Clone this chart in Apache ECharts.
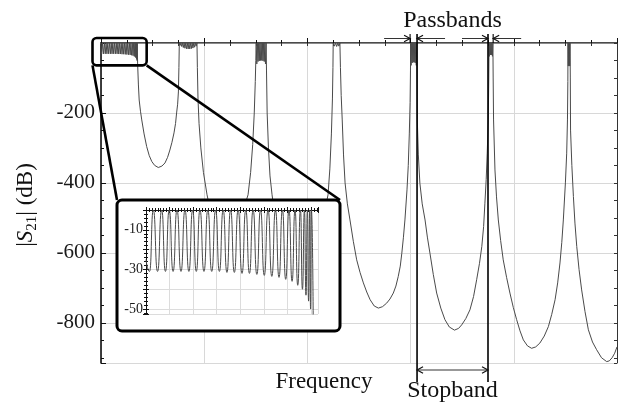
<!DOCTYPE html>
<html>
<head>
<meta charset="utf-8">
<title>|S21| response</title>
<script src="https://cdn.jsdelivr.net/npm/echarts@6.0.0/dist/echarts.min.js"></script>
<style>
html, body { margin: 0; padding: 0; background: #fff; }
#chart { width: 618px; height: 403px; }
</style>
</head>
<body>
<div id="chart"></div>
<script>
// |S21| in dB against normalised frequency (0..20), listed band by band as [f, dB].

// band 1 ripple (also shown magnified in the inset)
const pass1 = [
  [0, -25], [0.03, -31], [0.062, 0],
  [0.098, -31], [0.133, 0], [0.165, -31], [0.197, 0], [0.230, -31], [0.263, 0],
  [0.297, -31], [0.331, 0], [0.364, -31], [0.396, 0], [0.427, -31], [0.458, 0],
  [0.492, -31], [0.525, 0], [0.558, -31], [0.591, 0], [0.623, -31], [0.655, 0],
  [0.687, -31.5], [0.718, 0], [0.750, -31.5], [0.782, 0], [0.815, -32], [0.847, 0],
  [0.878, -32], [0.909, 0], [0.941, -32.5], [0.972, 0], [1.004, -33], [1.036, 0],
  [1.068, -33.5], [1.099, 0], [1.129, -34], [1.158, 0], [1.186, -35], [1.214, 0],
  [1.240, -36], [1.265, 0], [1.288, -38], [1.311, 0], [1.328, -40], [1.345, 0],
  [1.358, -43], [1.370, 0], [1.380, -46], [1.390, 0], [1.397, -50], [1.404, 0]
];
const stop1 = [
  [1.404, 0], [1.42, -60], [1.45, -120], [1.48, -163], [1.53, -195], [1.58, -220],
  [1.67, -260], [1.77, -296], [1.87, -322], [1.97, -339], [2.08, -350], [2.22, -356],
  [2.36, -352], [2.48, -343], [2.58, -327], [2.67, -306], [2.75, -284], [2.83, -257],
  [2.89, -230], [2.93, -200], [2.97, -175], [3.0, -140], [3.02, -70], [3.035, 0]
];
const pass2 = [
  [3.035, 0], [3.066, -7], [3.097, 0], [3.128, -10], [3.16, 0], [3.191, -13], [3.222, 0],
  [3.253, -15], [3.284, 0], [3.315, -16.5], [3.346, 0], [3.377, -17], [3.409, 0],
  [3.44, -17], [3.471, 0], [3.502, -16], [3.533, 0], [3.564, -14.5], [3.595, 0],
  [3.627, -12], [3.658, 0], [3.689, -9], [3.72, 0]
];
const stop2 = [
  [3.72, 0], [3.735, -70], [3.76, -160], [3.80, -230], [3.87, -300], [3.97, -370],
  [4.11, -434], [4.27, -490], [4.45, -535], [4.65, -565], [4.85, -578], [5.05, -572],
  [5.25, -548], [5.42, -505], [5.57, -465], [5.70, -434], [5.80, -370], [5.88, -290],
  [5.94, -200], [5.98, -110], [6.0, -50], [6.015, 0]
];
const pass3 = [
  [6.015, 0], [6.039, -60], [6.063, 0], [6.087, -53], [6.111, 0], [6.135, -51], [6.159, 0],
  [6.183, -50], [6.207, 0], [6.231, -50], [6.255, 0], [6.279, -51], [6.303, 0],
  [6.327, -53], [6.351, 0], [6.375, -60], [6.40, 0]
];
const stop3 = [
  [6.40, 0], [6.415, -80], [6.44, -200], [6.49, -300], [6.55, -380], [6.63, -434],
  [6.75, -500], [6.9, -565], [7.1, -630], [7.35, -680], [7.6, -698], [7.85, -690],
  [8.1, -655], [8.35, -590], [8.55, -520], [8.70, -470], [8.80, -434], [8.87, -360],
  [8.93, -260], [8.97, -160], [8.99, -70], [9.0, 0]
];
const pass4 = [
  [9.0, 0], [9.045, -9], [9.09, 0], [9.135, -10], [9.18, 0], [9.22, -9], [9.26, 0]
];
const stop4 = [
  [9.26, 0], [9.28, -70], [9.31, -150], [9.35, -220], [9.40, -320], [9.46, -400],
  [9.55, -460], [9.65, -506], [9.78, -567], [9.91, -620], [10.04, -656], [10.17, -686],
  [10.30, -712], [10.43, -734], [10.59, -752], [10.75, -758], [10.91, -754],
  [11.07, -744], [11.20, -732], [11.33, -715], [11.43, -695], [11.52, -668],
  [11.60, -638], [11.66, -601], [11.72, -557], [11.78, -506], [11.86, -420],
  [11.91, -350], [11.95, -260], [11.98, -170], [11.995, -80], [12.0, 0]
];
const pass5 = [
  [12.0, 0], [12.02, -64], [12.04, 0], [12.06, -57], [12.08, 0], [12.10, -55], [12.12, 0],
  [12.14, -55], [12.16, 0], [12.18, -57], [12.20, 0], [12.22, -64], [12.24, 0]
];
const stop5 = [
  [12.24, 0], [12.25, -100], [12.26, -220], [12.30, -320], [12.36, -401], [12.45, -460],
  [12.56, -506], [12.65, -555], [12.75, -601], [12.88, -662], [13.01, -715],
  [13.17, -758], [13.33, -791], [13.50, -812], [13.70, -821], [13.86, -816],
  [13.98, -806], [14.14, -788], [14.30, -763], [14.44, -725], [14.56, -677],
  [14.67, -630], [14.76, -582], [14.83, -525], [14.88, -458], [14.93, -390],
  [14.97, -315], [15.01, -220], [15.03, -100], [15.04, 0]
];
const pass6 = [
  [15.04, 0], [15.058, -38], [15.077, 0], [15.096, -34], [15.115, 0], [15.133, -34],
  [15.152, 0], [15.171, -38], [15.19, 0]
];
const stop6 = [
  [15.19, 0], [15.20, -100], [15.215, -220], [15.27, -363], [15.33, -440], [15.40, -506],
  [15.49, -565], [15.59, -620], [15.72, -670], [15.85, -715], [15.98, -756],
  [16.11, -791], [16.24, -823], [16.37, -849], [16.53, -866], [16.69, -873],
  [16.85, -869], [17.01, -858], [17.18, -838], [17.34, -811], [17.47, -776],
  [17.60, -734], [17.70, -686], [17.79, -629], [17.86, -570], [17.92, -506],
  [18.0, -400], [18.05, -315], [18.08, -220], [18.095, -110], [18.10, 0]
];
const pass7 = [
  [18.10, 0], [18.113, -66], [18.127, 0], [18.14, -62], [18.153, 0], [18.167, -66], [18.18, 0]
];
const stop7 = [
  [18.18, 0], [18.19, -100], [18.20, -249], [18.25, -350], [18.31, -439], [18.37, -515],
  [18.44, -582], [18.53, -648], [18.63, -706], [18.76, -768], [18.89, -820],
  [19.05, -855], [19.21, -877], [19.40, -900], [19.60, -911], [19.70, -909],
  [19.81, -900], [19.91, -887], [20.0, -869]
];

// annotation edges (frequency units)
const passbandBars = [11.98, 15.2];
const stopbandEdges = [12.25, 15.0];

const FONT = '"Liberation Serif", "Times New Roman", serif';
const CURVE = '#4a4a4a';

const mainCurve = [].concat(pass1, stop1, pass2, stop2, pass3, stop3, pass4,
  stop4, pass5, stop5, pass6, stop6, pass7, stop7);
// the y axes are drawn inverted on attenuation (-dB) so that ticks start at 0
const toAtt = pts => pts.map(p => [p[0], -p[1]]);

const chart = echarts.init(document.getElementById('chart'), null, { renderer: 'canvas' });

const tickStyle = { color: '#111', width: 1 };

const option = {
  animation: false,
  backgroundColor: '#fff',
  textStyle: { fontFamily: FONT },
  grid: [
    { left: 101, top: 43, width: 516, height: 320 },
    { left: 146, top: 210, width: 172, height: 104 }
  ],
  xAxis: [
    { gridIndex: 0, type: 'value', position: 'bottom', min: 0, max: 20, interval: 4,
      axisLine: { lineStyle: { color: '#111', width: 1.6 } },
      axisTick: { inside: true, length: 5, lineStyle: tickStyle },
      minorTick: { show: true, splitNumber: 4, length: 3, lineStyle: tickStyle },
      axisLabel: { show: false },
      splitLine: { show: true, lineStyle: { color: '#d8d8d8', width: 1 } } },
    { gridIndex: 0, type: 'value', position: 'top', min: 0, max: 20, interval: 1,
      axisLine: { lineStyle: { color: '#8a8a8a', width: 1 } },
      axisTick: { inside: true, length: 3, lineStyle: { color: '#333', width: 1 } },
      axisLabel: { show: false }, splitLine: { show: false } },
    { gridIndex: 1, type: 'value', position: 'bottom', min: 0, max: 1.46, interval: 0.2, z: 30,
      axisLine: { lineStyle: { color: '#111', width: 1 } },
      axisTick: { inside: true, length: 3, lineStyle: tickStyle },
      minorTick: { show: true, splitNumber: 8, length: 2, lineStyle: tickStyle },
      axisLabel: { show: false },
      splitLine: { show: true, lineStyle: { color: '#dcdcdc', width: 1 } } },
    { gridIndex: 1, type: 'value', position: 'top', min: 0, max: 1.46, interval: 0.2, z: 30,
      axisLine: { lineStyle: { color: '#111', width: 1 } },
      axisTick: { inside: true, length: 3, lineStyle: tickStyle },
      minorTick: { show: true, splitNumber: 8, length: 2, lineStyle: tickStyle },
      axisLabel: { show: false }, splitLine: { show: false } }
  ],
  yAxis: [
    { gridIndex: 0, type: 'value', position: 'left', inverse: true, min: 0, max: 915, interval: 200,
      axisLine: { show: true, lineStyle: { color: '#111', width: 1.6 } },
      axisTick: { inside: true, length: 5, lineStyle: tickStyle },
      axisLabel: { margin: 6, fontSize: 21, color: '#1a1a1a', fontFamily: FONT,
        formatter: v => (v > 0 && v % 200 === 0) ? '-' + v : '' },
      splitLine: { show: true, lineStyle: { color: '#d8d8d8', width: 1 } } },
    { gridIndex: 0, type: 'value', position: 'left', inverse: true, min: 0, max: 915, interval: 50,
      axisLine: { show: false },
      axisTick: { inside: true, length: 3, lineStyle: tickStyle },
      axisLabel: { show: false }, splitLine: { show: false } },
    { gridIndex: 0, type: 'value', position: 'right', inverse: true, min: 0, max: 915, interval: 50,
      axisLine: { show: true, lineStyle: { color: '#333', width: 1 } },
      axisTick: { inside: true, length: 3, lineStyle: { color: '#333', width: 1 } },
      axisLabel: { show: false }, splitLine: { show: false } },
    { gridIndex: 1, type: 'value', position: 'left', inverse: true, min: 0, max: 52.5, interval: 10, z: 30,
      axisLine: { show: true, lineStyle: { color: '#111', width: 1 } },
      axisTick: { inside: true, length: 3, lineStyle: tickStyle },
      minorTick: { show: true, splitNumber: 5, length: 2, lineStyle: tickStyle },
      axisLabel: { margin: 3, fontSize: 14, color: '#1a1a1a', fontFamily: FONT,
        formatter: v => (v === 10 || v === 30 || v === 50) ? '-' + v : '' },
      splitLine: { show: true, lineStyle: { color: '#dcdcdc', width: 1 } } },
    { gridIndex: 1, type: 'value', position: 'right', inverse: true, min: 0, max: 52.5, interval: 10, z: 30,
      axisLine: { show: true, lineStyle: { color: '#111', width: 1 } },
      axisTick: { inside: true, length: 3, lineStyle: tickStyle },
      minorTick: { show: true, splitNumber: 5, length: 2, lineStyle: tickStyle },
      axisLabel: { show: false }, splitLine: { show: false } }
  ],
  series: [
    { type: 'line', xAxisIndex: 0, yAxisIndex: 0, data: toAtt(mainCurve),
      showSymbol: false, symbol: 'none', clip: true, z: 2,
      lineStyle: { color: CURVE, width: 1 } },
    { type: 'line', xAxisIndex: 2, yAxisIndex: 3, data: toAtt(pass1.concat([[1.42, -60]])),
      showSymbol: false, symbol: 'none', clip: true, z: 31,
      smooth: 0.6, smoothMonotone: 'x',
      lineStyle: { color: CURVE, width: 1 } }
  ]
};
chart.setOption(option);

// ---- annotations placed from the axis scales ----
const toPx = (f, db) => chart.convertToPixel({ xAxisIndex: 0, yAxisIndex: 0 }, [f, -db]);
const topY = toPx(0, 0)[1];
const botY = toPx(0, -915)[1];

function arrowHead(x, y, dir) {
  // chevron pointing in direction dir (+1 right, -1 left)
  return { type: 'polyline', z: 40,
    shape: { points: [[x - dir * 6, y - 3.2], [x, y], [x - dir * 6, y + 3.2]] },
    style: { stroke: '#111', lineWidth: 1.2, fill: null } };
}
function hline(x1, x2, y, w) {
  return { type: 'line', z: 40, shape: { x1, y1: y, x2, y2: y },
    style: { stroke: '#333', lineWidth: w || 1 } };
}
function vline(x, y1, y2, w) {
  return { type: 'line', z: 40, shape: { x1: x, y1, x2: x, y2 },
    style: { stroke: '#000', lineWidth: w } };
}

const els = [];
const xs1 = toPx(stopbandEdges[0], 0)[0];
const xs2 = toPx(stopbandEdges[1], 0)[0];
const xp1 = toPx(passbandBars[0], 0)[0];
const xp2 = toPx(passbandBars[1], 0)[0];
const arrowY = topY - 4.5;

// stopband boundaries
els.push(vline(xs1, topY - 9, botY + 19, 1.6));
els.push(vline(xs2, topY - 9, botY + 19, 1.6));
// outer passband bars
els.push(vline(xp1, topY - 9, topY, 1.1));
els.push(vline(xp2, topY - 9, topY, 1.1));
// passband arrows
els.push(hline(xp1 - 26, xp1, arrowY), arrowHead(xp1, arrowY, 1));
els.push(hline(xs1, xs1 + 28, arrowY), arrowHead(xs1, arrowY, -1));
els.push(hline(xs2 - 26, xs2, arrowY), arrowHead(xs2, arrowY, 1));
els.push(hline(xp2, xp2 + 28, arrowY), arrowHead(xp2, arrowY, -1));
// stopband double arrow
const sbY = botY + 7;
els.push(hline(xs1, xs2, sbY), arrowHead(xs1, sbY, -1), arrowHead(xs2, sbY, 1));

const midX = (xs1 + xs2) / 2;
els.push({ type: 'text', z: 40, x: midX, y: 21,
  style: { text: 'Passbands', font: '24px ' + FONT, fill: '#111', align: 'center', verticalAlign: 'middle' } });
els.push({ type: 'text', z: 40, x: midX, y: 391,
  style: { text: 'Stopband', font: '24px ' + FONT, fill: '#111', align: 'center', verticalAlign: 'middle' } });
els.push({ type: 'text', z: 40, x: 324, y: 382,
  style: { text: 'Frequency', font: '23px ' + FONT, fill: '#111', align: 'center', verticalAlign: 'middle' } });

// y axis title
els.push({ type: 'text', z: 40, x: 26, y: 205, rotation: Math.PI / 2,
  style: { text: '|{it|S}{sub|21}| (dB)', font: '23px ' + FONT, fill: '#111',
    align: 'center', verticalAlign: 'middle',
    rich: {
      it: { fontStyle: 'italic', fontSize: 23, fontFamily: FONT, fill: '#111', lineHeight: 28 },
      sub: { fontSize: 15, fontFamily: FONT, fill: '#111', verticalAlign: 'bottom', lineHeight: 15 }
    } } });

// magnified region outline and inset frame
const zTL = toPx(0, 0), zBR = toPx(1.46, -52.5);
const zb = { x: zTL[0] - 8.5, y: zTL[1] - 5, w: (zBR[0] - zTL[0]) + 16.5, h: (zBR[1] - zTL[1]) + 9 };
els.push({ type: 'rect', z: 26, shape: { x: zb.x, y: zb.y, width: zb.w, height: zb.h, r: 4 },
  style: { fill: null, stroke: '#000', lineWidth: 2.6 } });
const ib = { x: 117, y: 200, w: 223, h: 131 };
els.push({ type: 'line', z: 24, shape: { x1: zb.x, y1: zb.y + zb.h, x2: ib.x, y2: ib.y },
  style: { stroke: '#000', lineWidth: 2.6 } });
els.push({ type: 'line', z: 24, shape: { x1: zb.x + zb.w, y1: zb.y + zb.h, x2: ib.x + ib.w, y2: ib.y },
  style: { stroke: '#000', lineWidth: 2.6 } });
els.push({ type: 'rect', z: 25, shape: { x: ib.x, y: ib.y, width: ib.w, height: ib.h, r: 5 },
  style: { fill: '#fff', stroke: '#000', lineWidth: 3 } });

chart.setOption({ graphic: { elements: els } });
</script>
</body>
</html>
